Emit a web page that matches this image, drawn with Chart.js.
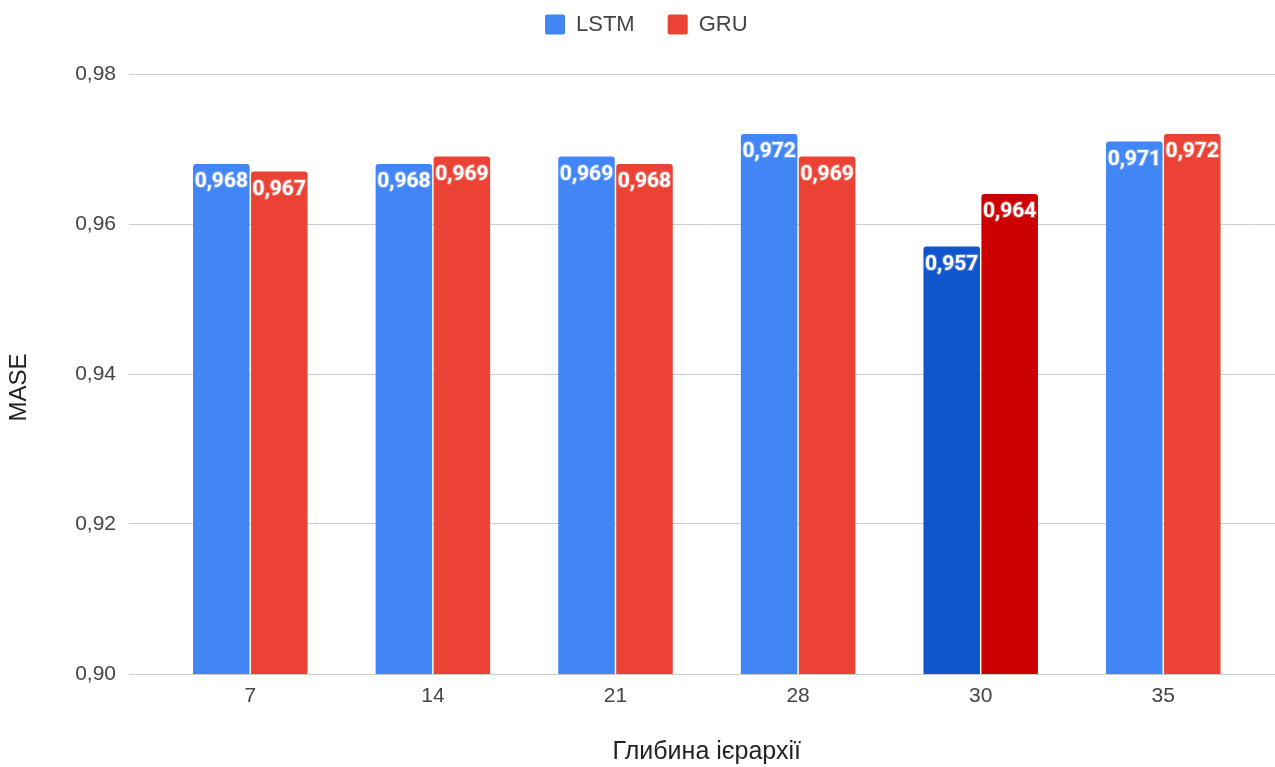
<!DOCTYPE html>
<html>
<head>
<meta charset="utf-8">
<script src="https://cdn.jsdelivr.net/npm/chart.js@4/dist/chart.umd.min.js"></script>
<style>
  html, body { margin: 0; padding: 0; background: #ffffff; overflow: hidden; }
  canvas { display: block; }
</style>
</head>
<body>
<canvas id="chart" width="1275" height="767"></canvas>
<script>
// Hierarchy depth on the x axis
const categories = ['7', '14', '21', '28', '30', '35'];
// MASE per model
const lstmValues = [0.968, 0.968, 0.969, 0.972, 0.957, 0.971];
const gruValues  = [0.967, 0.969, 0.968, 0.969, 0.964, 0.972];
// Value axis ticks
const yTickValues = [0.90, 0.92, 0.94, 0.96, 0.98];
// Depth whose bars are drawn in the darker shade
const emphasisCategory = '30';
// Axis titles
const xAxisTitle = 'Глибина ієрархії';
const yAxisTitle = 'MASE';

const COLORS = {
  lstm: '#4285f4', lstmDark: '#1155cc',
  gru: '#ea4335', gruDark: '#cc0000',
  grid: '#cccccc', tick: '#444444', title: '#222222', legend: '#444444'
};

const AXIS_FONT = 'Arial, "Liberation Sans", sans-serif';

function colorFor(normal, dark) {
  return ctx => (ctx.dataIndex !== undefined && categories[ctx.dataIndex] === emphasisCategory) ? dark : normal;
}

// Same half-pixel alignment Chart.js uses for its own grid lines
const alignPixel = (px) => Math.round(px - 0.5) + 0.5;

// Value labels written inside the top of each bar
const barValueLabels = {
  id: 'barValueLabels',
  afterDatasetsDraw(chart) {
    const { ctx } = chart;
    ctx.save();
    ctx.font = 'bold 21px Roboto, "Noto Sans", sans-serif';
    ctx.textAlign = 'center';
    ctx.textBaseline = 'middle';
    chart.data.datasets.forEach((ds, di) => {
      const meta = chart.getDatasetMeta(di);
      meta.data.forEach((bar, i) => {
        const text = ds.data[i].toFixed(3).replace('.', ',');
        ctx.lineWidth = 2;
        ctx.strokeStyle = 'rgba(255,255,255,0.25)';
        ctx.strokeText(text, bar.x, bar.y + 18);
        ctx.fillStyle = '#ffffff';
        ctx.fillText(text, bar.x, bar.y + 18);
      });
    });
    ctx.restore();
  }
};

// Horizontal grid lines continue to the right edge of the canvas
const gridToEdge = {
  id: 'gridToEdge',
  beforeDatasetsDraw(chart) {
    const { ctx, chartArea, scales } = chart;
    ctx.save();
    ctx.strokeStyle = COLORS.grid;
    ctx.lineWidth = 1;
    yTickValues.forEach(v => {
      const y = alignPixel(scales.y.getPixelForValue(v));
      ctx.beginPath();
      ctx.moveTo(chartArea.right, y);
      ctx.lineTo(chart.width, y);
      ctx.stroke();
    });
    ctx.restore();
  }
};

// Vertical value-axis title, centred on the full canvas height
const valueAxisTitle = {
  id: 'valueAxisTitle',
  afterDraw(chart) {
    const { ctx } = chart;
    ctx.save();
    ctx.translate(19, chart.height / 2 + 4);
    ctx.rotate(-Math.PI / 2);
    ctx.font = '24px ' + AXIS_FONT;
    ctx.fillStyle = COLORS.title;
    ctx.textAlign = 'center';
    ctx.textBaseline = 'middle';
    ctx.fillText(yAxisTitle, 0, 0);
    ctx.restore();
  }
};

// Legend placement above the plot
const legendPlacement = {
  id: 'legendPlacement',
  afterLayout(chart) {
    const lg = chart.legend;
    lg.left += 19; lg.right += 19;
    lg.top -= 28.5; lg.bottom -= 28.5;
  }
};

new Chart(document.getElementById('chart'), {
  type: 'bar',
  data: {
    labels: categories,
    datasets: [
      {
        label: 'LSTM',
        data: lstmValues,
        backgroundColor: colorFor(COLORS.lstm, COLORS.lstmDark),
        borderRadius: 3,
        borderSkipped: 'start',
        categoryPercentage: 0.635,
        barPercentage: 0.975
      },
      {
        label: 'GRU',
        data: gruValues,
        backgroundColor: colorFor(COLORS.gru, COLORS.gruDark),
        borderRadius: 3,
        borderSkipped: 'start',
        categoryPercentage: 0.635,
        barPercentage: 0.975
      }
    ]
  },
  options: {
    responsive: false,
    animation: false,
    devicePixelRatio: 1,
    layout: { padding: { top: 9, right: 20.4, bottom: 0, left: 0 } },
    plugins: {
      tooltip: { enabled: false },
      legend: {
        position: 'top',
        align: 'center',
        labels: {
          boxWidth: 20,
          boxHeight: 20,
          useBorderRadius: true,
          borderRadius: 2,
          padding: 33,
          color: COLORS.legend,
          font: { family: AXIS_FONT, size: 22 }
        }
      }
    },
    scales: {
      x: {
        grid: { display: false },
        border: { display: false },
        ticks: { color: COLORS.tick, font: { family: AXIS_FONT, size: 21 }, padding: 2 },
        title: {
          display: true,
          text: xAxisTitle,
          color: COLORS.title,
          font: { family: AXIS_FONT, size: 25 },
          padding: { top: 0, bottom: 0 }
        },
        afterFit(scale) { scale.height = 93; }
      },
      y: {
        min: 0.90,
        max: 0.98,
        afterBuildTicks(scale) { scale.ticks = yTickValues.map(v => ({ value: v })); },
        ticks: {
          color: COLORS.tick,
          font: { family: AXIS_FONT, size: 21 },
          padding: 13,
          callback: v => v.toFixed(2).replace('.', ',')
        },
        grid: { color: COLORS.grid, tickLength: 30, tickColor: COLORS.grid },
        border: { display: false },
        title: { display: false },
        afterFit(scale) { scale.width = 159; }
      }
    }
  },
  plugins: [barValueLabels, gridToEdge, valueAxisTitle, legendPlacement]
});
</script>
</body>
</html>
